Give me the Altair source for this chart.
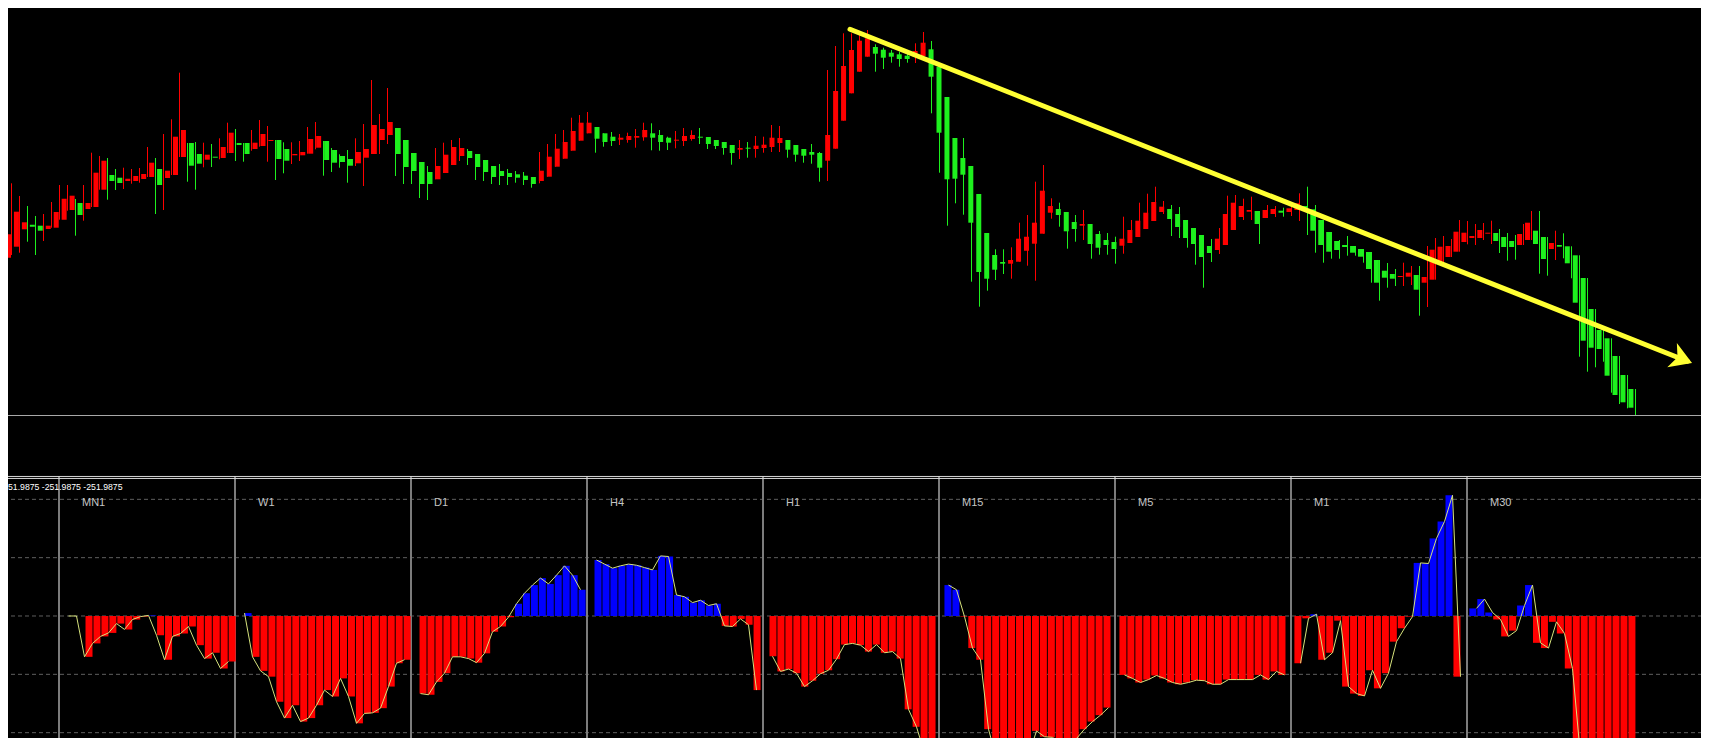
import altair as alt
import pandas as pd

# ---------------- candle data (price units) ----------------
OPEN = [157.3, 168.3, 185.7, 190.3, 189.3, 186, 187.3, 195.3, 205, 212,
        206, 208, 225.3, 240, 237.3, 234, 234, 236, 238, 246,
        237, 240, 258, 272, 261, 255.3, 258.3, 257, 262, 272,
        272, 266, 269, 274, 275, 266, 259.7, 259.7, 261.3, 267.3,
        274, 265, 259, 256, 251.7, 257.3, 261, 275, 280, 287,
        275, 262, 253, 243, 235.7, 242, 250, 259, 264, 261,
        255, 249, 244, 242, 240.7, 239.3, 238, 234, 238.3, 248.3,
        256.3, 264.3, 274.3, 281.7, 288, 281.7, 278.3, 275.3, 275, 277.3,
        277.7, 281.7, 280, 277.3, 274.3, 274, 276, 278.3, 278, 275,
        273, 270, 265.3, 267.3, 266, 267, 268, 272, 275, 270,
        266, 263, 262, 254.3, 266.3, 294.3, 321.7, 343.3, 358.3, 368,
        365.3, 362.3, 360.7, 359.3, 358, 359, 365.7, 348.3, 318, 277,
        257, 249, 221, 182, 160, 153, 151.3, 153.3, 164.3, 171.3,
        181.3, 202.3, 206, 203, 193, 189.3, 191, 181, 175, 173,
        169.3, 172, 178, 186, 194, 203, 206, 201, 195, 187,
        180, 169, 165, 170, 185, 198, 203.3, 204, 197, 201,
        204.3, 203, 205, 209, 205.7, 195, 183, 174, 170, 169,
        166, 163, 155, 144.3, 141, 138, 138.3, 140, 132.3, 135.3,
        153, 158, 163.3, 173, 177, 177, 181.3, 182, 178, 174,
        170, 175, 184.3, 178, 166, 170, 168.7, 159.7, 137, 106,
        85, 76.7, 59, 40, 26]
HIGH = [211.7, 231.7, 219, 209, 199, 201, 213, 230, 230, 216,
        230, 262.3, 259, 257, 246, 247.3, 246, 247, 268, 257,
        281, 295.7, 342.3, 272, 273, 272.3, 271, 276.7, 292.3, 286,
        272, 285, 295, 289, 275, 272.7, 272.7, 274, 288, 293,
        274, 267, 260.7, 265, 276.7, 291, 335, 301, 327, 287,
        275, 262, 253, 249, 267, 272.3, 275, 277, 266, 261,
        255, 249, 251, 246, 244, 243, 238, 263, 271, 281,
        285, 297.3, 300, 303, 288, 281.7, 283, 281, 282.3, 286,
        292.3, 291.7, 285, 278.3, 284, 287, 284.7, 287, 278, 275,
        273, 270, 275, 273, 279, 278.3, 290, 289, 275, 270,
        266, 271, 263, 345, 369, 381.7, 381.7, 380, 385, 370.7,
        367.3, 365, 363.3, 363.3, 371.7, 383, 374, 348.3, 318, 277,
        277, 249, 221, 182, 165.7, 165.7, 167.7, 192.3, 200, 233.3,
        250, 216.7, 212.3, 203, 200, 205, 191, 184, 182, 178.3,
        198.3, 195, 212.3, 221.3, 228.3, 214, 210, 208, 195, 187,
        180, 176, 187, 219.3, 220, 216.3, 218.3, 204, 210, 209,
        207.3, 210, 221.7, 228.3, 210, 195, 183, 175, 179, 169,
        166, 163, 155, 152, 146, 152.3, 149, 149, 169, 177,
        179, 176, 195, 194, 191, 192, 194.3, 186, 182, 180,
        191, 204, 204, 178, 184.3, 181.7, 168.7, 159.7, 137, 106,
        85, 76.7, 59, 40, 26]
LOW = [143.3, 160, 162.3, 173.3, 160, 174, 187.3, 195.3, 204.3, 179.3,
       194.3, 208, 225.3, 215.3, 225, 226, 231.3, 232.3, 238, 201,
       205, 240, 258, 233.3, 225.3, 247.7, 248, 255.7, 262, 254,
       253.3, 264.3, 268.3, 253.3, 235, 241.7, 251, 254, 261.3, 265.7,
       239.3, 243, 247.3, 232.3, 249, 229, 261, 261, 271, 239,
       231, 231, 217, 215, 235.7, 242, 250, 254, 250, 235,
       234, 231, 230, 230, 232.3, 230, 227.3, 231.7, 238.3, 248.3,
       256.3, 264.3, 274.3, 281.7, 262.3, 268.3, 269, 270, 272.3, 267.3,
       274.3, 264.7, 264.3, 265, 266.7, 269, 274.3, 271, 266, 266,
       260.3, 250.3, 256, 257.3, 257.3, 262.3, 263, 263, 257.3, 253.3,
       252.3, 251.3, 233.3, 234, 266.3, 294.3, 321.7, 343.3, 358.3, 343.3,
       346, 352.3, 348.3, 352.3, 352, 359, 301.7, 242.3, 189.3, 211.7,
       200.3, 133.3, 108.3, 124.3, 135, 141, 136.3, 153.3, 149.3, 134.3,
       181.3, 196.3, 188.3, 166.3, 173.3, 175, 156.3, 160.3, 160.3, 151.3,
       161.3, 172, 178, 186, 194, 201, 179, 177, 167.3, 150.3,
       127.3, 153, 161, 170, 185, 195, 195, 171, 197, 198,
       198.3, 199, 194, 180, 162.3, 152.3, 156.3, 156.3, 159.3, 159.3,
       152.3, 132.3, 114.3, 127.3, 129, 129, 130, 99.3, 108, 135.3,
       153, 158, 163.3, 170.7, 170, 175, 171, 162, 154.3, 155.3,
       170, 175, 141.3, 139.3, 155, 156.7, 136.7, 58.3, 43.3, 47.7,
       53.3, 22.3, 11, 6.7, 0]
CLOSE = [180.7, 203.3, 192.7, 188.3, 184.3, 189.3, 203, 216.3, 219.3, 200,
         212, 242.3, 254.3, 234, 232, 236.3, 239, 241, 252.3, 230,
         244.3, 278.3, 285, 249.3, 251.3, 260.3, 257.3, 268, 282.3, 270,
         261, 272.3, 281, 275, 256, 254.3, 261, 263, 276, 279,
         255, 252.3, 253, 249.3, 263, 266, 290, 286, 293, 261,
         248, 244, 231, 231, 249, 260.3, 268, 267, 257, 248,
         243, 238, 239, 238, 237.3, 235, 231, 244.3, 258.3, 266.3,
         273, 284, 292.3, 292.3, 276.3, 273, 274, 277.3, 279, 279,
         285, 277.3, 273, 272.3, 275.3, 279, 280, 277.3, 271, 269,
         267, 262, 267, 266.3, 269.3, 270.3, 277.3, 277, 265.3, 260.3,
         259.3, 260.3, 247.3, 280, 324, 349, 365, 374.3, 376.7, 361.3,
         357.3, 358.3, 356, 356, 364, 372.3, 338.3, 282.3, 235.7, 236.3,
         240.3, 192.3, 143, 136.3, 145.3, 151.3, 155, 176.3, 178.3, 192.3,
         224.3, 209, 200, 183.7, 186, 191, 171, 167.3, 170, 166,
         176.3, 185, 194.3, 202.3, 213, 208.3, 196, 188, 177, 171,
         158, 162, 176.3, 201, 212.3, 209, 205, 191, 205, 206,
         202.3, 206.7, 211.7, 206.7, 184.3, 170, 163.3, 165, 168, 162.3,
         158.3, 146, 132.3, 137.3, 136.3, 139, 142.3, 125.3, 138, 165.3,
         168.3, 169, 183.3, 182.3, 179, 185, 182.3, 174, 168, 168,
         181, 192.3, 171, 156, 172, 168.3, 151.7, 112.3, 74.3, 67.3,
         66, 39.3, 20, 12.7, 7.3]

LEVEL = [-0.5]                      # grey horizontal price line
TREND_IDX = [105.81, 210.48]        # yellow trend line (candle index)
TREND_PRICE = [385.7, 53.8]         # yellow trend line (price)
ARROW_IDX = [209.78]
ARROW_PRICE = [56.1]

# ---------------- indicator data ----------------
SECTIONS = ["MN1", "W1", "D1", "H4", "H1", "M15", "M5", "M1", "M30"]
MN1 = [0, 0, -70, -47, -35, -29, -13, -23, -6, -1, 1, -33, -75, -35, -30, -18, -50, -73, -63, -90, -78]
W1 = [5, -70, -94, -104, -147, -175, -153, -181, -175, -153, -127, -138, -107, -138, -184, -167, -166, -158, -121, -81, -75]
D1 = [-133, -135, -113, -98, -70, -70, -73, -80, -64, -27, -18, -2, 21, 39, 53, 65, 55, 70, 86, 70, 45]
H4 = [96, 89, 82, 86, 89, 87, 83, 79, 103, 102, 36, 33, 23, 27, 18, 21, -17, -18, -5, -15, -127]
H1 = [-69, -95, -91, -98, -121, -111, -99, -93, -74, -49, -47, -50, -61, -49, -63, -61, -73, -160, -190, -235, -250]
M15 = [53, 45, -1, -55, -75, -194, -245, -255, -260, -255, -240, -197, -207, -208, -218, -210, -210, -194, -181, -170, -157]
M5 = [-101, -107, -114, -109, -102, -107, -114, -117, -114, -110, -111, -117, -117, -109, -109, -109, -109, -101, -109, -95, -101]
M1 = [-81, -4, 3, -75, -63, -8, -121, -133, -137, -93, -124, -98, -44, -21, -1, 91, 90, 133, 162, 207, -104]
M30 = [13, 29, 6, -6, -35, -25, 18, 53, -46, -55, -10, -30, -90, -240, -255, -260, -262, -262, -262, -262, -262]
SERIES = [MN1, W1, D1, H4, H1, M15, M5, M1, M30]
GRID = [200, 100, 0, -100, -200]
HEADER = ["51.9875 -251.9875 -251.9875"]

W, H = 1709, 746
TOP_H = 476   # price window height; indicator window below it

# ---------------- scales ----------------
X_TOP = alt.Scale(domain=[-0.4375, 213.1875], range=[0, W], nice=False, zero=False)
Y_TOP = alt.Scale(domain=[-61, 415], range=[TOP_H, 0], nice=False, zero=False)
X_BOT = alt.Scale(domain=[-8.5625, 205.0625], range=[0, W], nice=False, zero=False)
Y_BOT = alt.Scale(domain=[-222.86, 240], range=[H, TOP_H], nice=False, zero=False)

# ---------------- price window ----------------
candles = pd.DataFrame({"i": list(range(len(OPEN))), "open": OPEN, "high": HIGH,
                        "low": LOW, "close": CLOSE})
candles["dir"] = ["up" if c >= o else "down" for o, c in zip(OPEN, CLOSE)]
ccol = alt.Color("dir:N", scale=alt.Scale(domain=["up", "down"], range=["#ff0000", "#1ef01e"]), legend=None)

wicks = alt.Chart(candles).mark_rule(strokeWidth=1).encode(
    x=alt.X("i:Q", scale=X_TOP, axis=None),
    y=alt.Y("low:Q", scale=Y_TOP, axis=None),
    y2="high:Q", color=ccol)
bodies = alt.Chart(candles).mark_bar(size=5).encode(
    x=alt.X("i:Q", scale=X_TOP, axis=None),
    y=alt.Y("open:Q", scale=Y_TOP, axis=None),
    y2="close:Q", color=ccol)
level = alt.Chart(pd.DataFrame({"p": LEVEL})).mark_rule(color="#a8a8a8", strokeWidth=1).encode(
    y=alt.Y("p:Q", scale=Y_TOP, axis=None))
trend = alt.Chart(pd.DataFrame({"i": TREND_IDX, "p": TREND_PRICE})).mark_line(
    color="#ffff33", strokeWidth=5, strokeCap="round").encode(
    x=alt.X("i:Q", scale=X_TOP, axis=None),
    y=alt.Y("p:Q", scale=Y_TOP, axis=None))
arrow = alt.Chart(pd.DataFrame({"i": ARROW_IDX, "p": ARROW_PRICE})).mark_point(
    shape="M0.85,0 L-0.8,-1 L-0.35,0 L-0.8,1 Z", filled=True, size=676, angle=21.6,
    color="#ffff33", opacity=1, strokeWidth=0).encode(
    x=alt.X("i:Q", scale=X_TOP, axis=None),
    y=alt.Y("p:Q", scale=Y_TOP, axis=None))

# ---------------- indicator window ----------------
rows = []
for s, (name, vals) in enumerate(zip(SECTIONS, SERIES)):
    for j, v in enumerate(vals):
        rows.append({"sec": name, "g": 22 * s + j, "v": v, "sign": "pos" if v > 0 else "neg"})
ind = pd.DataFrame(rows)

grid = alt.Chart(pd.DataFrame({"v": GRID})).mark_rule(
    color="#5e5e5e", strokeDash=[4, 3], strokeWidth=1).encode(
    y=alt.Y("v:Q", scale=Y_BOT, axis=None))
sep_df = pd.DataFrame({"g": [22 * s - 1.1875 for s in range(len(SECTIONS))],
                       "top": [240] * len(SECTIONS), "bot": [-222.86] * len(SECTIONS)})
seps = alt.Chart(sep_df).mark_rule(color="#7c7c7c", strokeWidth=2).encode(
    x=alt.X("g:Q", scale=X_BOT, axis=None),
    y=alt.Y("top:Q", scale=Y_BOT, axis=None), y2="bot:Q")
bars = alt.Chart(ind).mark_bar(size=7, clip=True).encode(
    x=alt.X("g:Q", scale=X_BOT, axis=None),
    y=alt.Y("v:Q", scale=Y_BOT, axis=None),
    y2=alt.datum(0),
    color=alt.Color("sign:N", scale=alt.Scale(domain=["pos", "neg"], range=["#0000ff", "#ff0000"]), legend=None))
line = alt.Chart(ind).mark_line(color="#d6e27c", strokeWidth=1, clip=True).encode(
    x=alt.X("g:Q", scale=X_BOT, axis=None),
    y=alt.Y("v:Q", scale=Y_BOT, axis=None),
    detail="sec:N")
lab_df = pd.DataFrame({"g": [22 * s - 1.1875 + 2.875 for s in range(len(SECTIONS))],
                       "v": [194] * len(SECTIONS), "label": SECTIONS})
labels = alt.Chart(lab_df).mark_text(align="left", baseline="middle", color="#c4c4c4",
                                     fontSize=11, font="Liberation Sans").encode(
    x=alt.X("g:Q", scale=X_BOT, axis=None),
    y=alt.Y("v:Q", scale=Y_BOT, axis=None),
    text="label:N")
header = alt.Chart(pd.DataFrame({"g": [-7.5625], "v": [221], "t": HEADER})).mark_text(
    align="left", baseline="middle", color="#ffffff", fontSize=8.7, font="Liberation Sans").encode(
    x=alt.X("g:Q", scale=X_BOT, axis=None),
    y=alt.Y("v:Q", scale=Y_BOT, axis=None),
    text="t:N")
frame_df = pd.DataFrame({"v": [239.2, 235.8]})
frame = alt.Chart(frame_df).mark_rule(color="#d8d8d8", strokeWidth=1).encode(
    y=alt.Y("v:Q", scale=Y_BOT, axis=None))

chart = alt.layer(
    level, wicks, bodies, trend, arrow,
    grid, seps, bars, line, labels, header, frame
).resolve_scale(
    x="independent", y="independent", color="independent"
).properties(
    width=W, height=H,
    background="#000000",
    padding={"left": -8, "top": -8, "right": -8, "bottom": -8},
    autosize=alt.AutoSizeParams(type="none"),
).configure_view(stroke=None)

chart.save("out.html", embed_options={"renderer": "svg", "actions": False})
